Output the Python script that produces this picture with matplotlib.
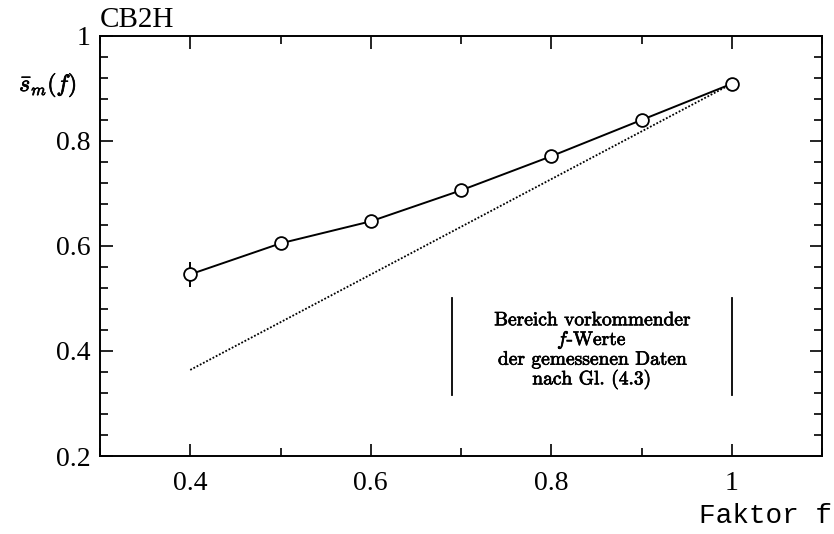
import matplotlib
matplotlib.use("Agg")
import matplotlib.pyplot as plt
import matplotlib.patheffects as pe
from matplotlib.ticker import FixedLocator, MultipleLocator

# Mean s_m as a function of the factor f
f_vals = [0.4, 0.5, 0.6, 0.7, 0.8, 0.9, 1.0]
s_mean = [0.546, 0.605, 0.647, 0.706, 0.771, 0.840, 0.909]
s_err = [0.024, 0.0, 0.0, 0.0, 0.0, 0.0, 0.0]

# Proportional reference line s_m(1) * f
ref_f = [0.4, 1.0]
ref_s = [0.364, 0.909]

# Range of f values occurring in the measured data
range_f = [0.69, 1.0]
range_s = [0.317, 0.50]
range_text = ["Bereich vorkommender", "$f$-Werte",
              "der gemessenen Daten", "nach Gl. (4.3)"]

x_ticks = [0.4, 0.6, 0.8, 1.0]
x_tick_labels = ["0.4", "0.6", "0.8", "1"]
y_ticks = [0.2, 0.4, 0.6, 0.8, 1.0]
y_tick_labels = ["0.2", "0.4", "0.6", "0.8", "1"]

plt.rcParams["mathtext.fontset"] = "cm"

fig = plt.figure(figsize=(8.34, 5.34), dpi=100)
ax = fig.add_axes([100 / 834, 1 - 456 / 534, 722 / 834, 420 / 534])

ax.plot(ref_f, ref_s, color="black", lw=1.3, dashes=(1.0, 1.0))
ax.errorbar(f_vals, s_mean, yerr=s_err, fmt="-o", color="black", lw=1.4,
            elinewidth=1.4, capsize=0, ms=9.2, mfc="white", mec="black",
            mew=1.3, zorder=3)

for xv in range_f:
    ax.plot([xv, xv], range_s, color="black", lw=1.3)

heavy = [pe.withStroke(linewidth=0.5, foreground="black")]
mid = 0.5 * (range_f[0] + range_f[1])
for i, line in enumerate(range_text):
    ax.text(mid, 0.449 - i * 0.0375, line, ha="center", va="baseline",
            fontsize=14, family="cmr10", path_effects=heavy)

ax.set_xlim(0.3, 1.1)
ax.set_ylim(0.2, 1.0)
ax.xaxis.set_major_locator(FixedLocator(x_ticks))
ax.set_xticklabels(x_tick_labels)
ax.yaxis.set_major_locator(FixedLocator(y_ticks))
ax.set_yticklabels(y_tick_labels)
ax.xaxis.set_minor_locator(MultipleLocator(0.1))
ax.yaxis.set_minor_locator(MultipleLocator(0.04))

ax.tick_params(which="both", direction="in", top=True, right=True, width=1.2)
ax.tick_params(which="major", length=9)
ax.tick_params(which="minor", length=5.5)
ax.tick_params(axis="x", which="major", pad=11)
ax.tick_params(axis="y", which="major", pad=7)
for lab in ax.get_xticklabels() + ax.get_yticklabels():
    lab.set_fontfamily("Liberation Serif")
    lab.set_fontsize(20)
for sp in ax.spines.values():
    sp.set_linewidth(1.4)

fig.text(100 / 834, 1 - 27 / 534, "CB2H", ha="left", va="baseline",
         fontsize=21, family="Liberation Serif")
fig.text(48 / 834, 1 - 85 / 534, r"$\bar{s}_m(f)$", ha="center",
         va="center", fontsize=17, path_effects=heavy)
fig.text(832 / 834, 1 - 523 / 534, "Faktor f", ha="right", va="baseline",
         fontsize=20, family="Liberation Mono")

fig.savefig("out.png", dpi=100)
